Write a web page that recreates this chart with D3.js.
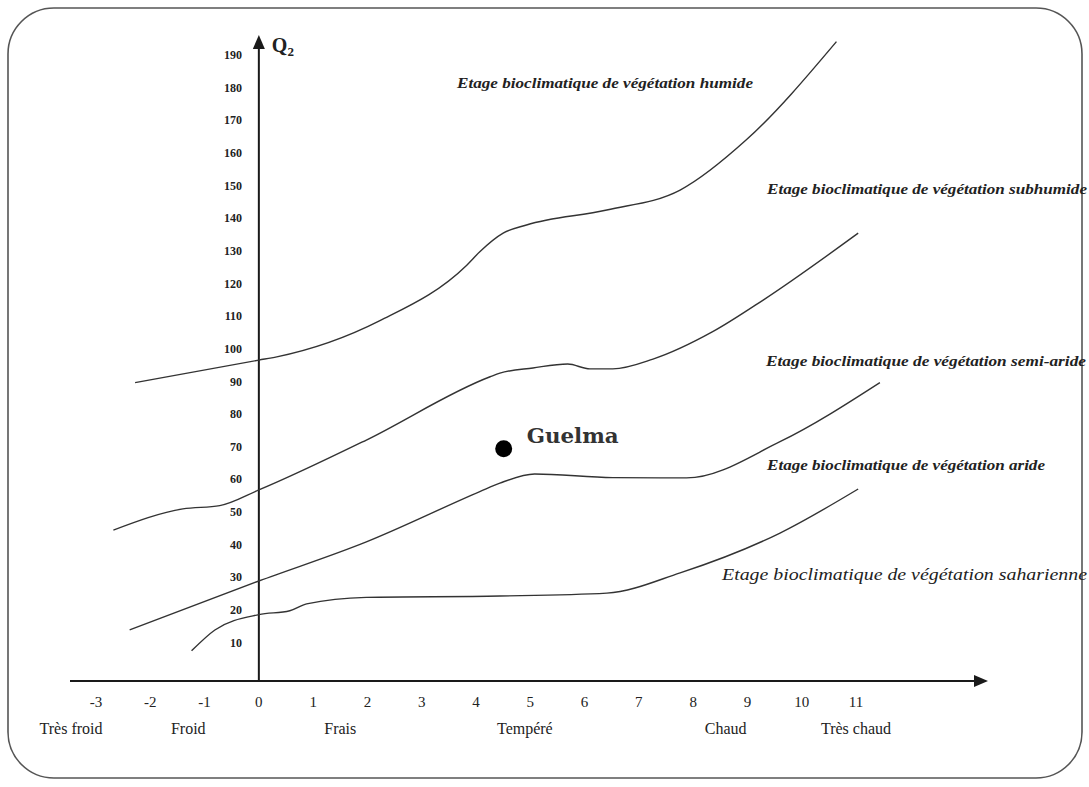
<!DOCTYPE html>
<html>
<head>
<meta charset="utf-8">
<script src="https://cdn.jsdelivr.net/npm/d3@7"></script>
<style>
  body { margin: 0; background: #fff; }
  svg { display: block; }
</style>
</head>
<body>
<svg></svg>
<script>
///////////////////////////////////////////
// Data
var xTickValues = [-3, -2, -1, 0, 1, 2, 3, 4, 5, 6, 7, 8, 9, 10, 11];
var yTickValues = [10, 20, 30, 40, 50, 60, 70, 80, 90, 100, 110, 120, 130, 140, 150, 160, 170, 180, 190];

var zoneNames = ["Très froid", "Froid", "Frais", "Tempéré", "Chaud", "Très chaud"];
var zoneM     = [-3.46, -1.3, 1.5, 4.9, 8.6, 11.0];

// limit curves, [m, Q2]
var limitHumide = [[-2.28, 89.6], [0, 96.5], [0.33, 97.5], [2.23, 108.6], [3.83, 125.6], [4.07, 129.7],
                   [4.5, 135.4], [4.93, 137.9], [6.41, 142.5], [7.76, 148.6], [8.98, 164.0], [10.64, 194.1]];
var limitSubhumide = [[-2.68, 44.4], [-1.4, 50.9], [-0.72, 51.9], [0, 56.7], [1.98, 72.0], [4.26, 91.4],
                      [4.44, 92.5], [5.05, 94.1], [5.69, 95.3], [6.1, 93.8], [6.52, 93.8], [7.26, 96.8],
                      [8.36, 105.2], [9.29, 114.9], [11.04, 135.4]];
var limitSemiAride = [[-2.38, 13.8], [0, 28.8], [1.98, 40.8], [4.07, 56.2], [4.44, 58.8], [5.08, 61.6],
                      [6.52, 60.5], [7.88, 60.4], [9.6, 71.5], [11.44, 89.6]];
var limitAride = [[-1.24, 7.4], [-0.81, 13.8], [0, 18.5], [0.57, 19.7], [0.88, 21.8], [1.98, 23.8],
                  [4.44, 24.2], [6.41, 25.1], [7.76, 31.3], [9.6, 43.5], [11.04, 57.0]];

var stageNames = [
  "Etage bioclimatique de végétation humide",
  "Etage bioclimatique de végétation subhumide",
  "Etage bioclimatique de végétation semi-aride",
  "Etage bioclimatique de végétation aride",
  "Etage bioclimatique de végétation saharienne"
];

var stationName = "Guelma",
    stationM = 4.51,
    stationQ2 = 69.3;

///////////////////////////////////////////
// Layout
var svgWidth = 1089, svgHeight = 787;
var xAxisY = 681, xAxisLeft = 70, xAxisRight = 988, yAxisTop = 35;
// label boxes: [left, baseline, width]
var stageLabelPos = [[457, 88, 296], [767, 194, 320], [766, 366, 320], [767, 470, 278], [722, 580, 365]];

var svg = d3.select("svg").attr("width", svgWidth).attr("height", svgHeight);

var x = d3.scaleLinear().domain([-3, 11]).range([96, 856]);
var y = d3.scaleLinear().domain([0, 190]).range([675, 55]);

// rounded frame
svg.append("rect")
  .attr("x", 8).attr("y", 8)
  .attr("width", 1074).attr("height", 770)
  .attr("rx", 46).attr("ry", 46)
  .style("fill", "none").style("stroke", "#555").style("stroke-width", 1.6);

var g = svg.append("g");

///////////////////////////////////////////
// Axes
var axisColor = "#1a1a1a";
var x0 = x(0);

g.append("line")
  .attr("x1", xAxisLeft).attr("x2", xAxisRight - 10)
  .attr("y1", xAxisY).attr("y2", xAxisY)
  .style("stroke", axisColor).style("stroke-width", 2);
g.append("path")
  .attr("d", "M" + xAxisRight + "," + xAxisY + "L" + (xAxisRight - 14) + "," + (xAxisY - 6) +
             "L" + (xAxisRight - 14) + "," + (xAxisY + 6) + "Z")
  .style("fill", axisColor);

g.append("line")
  .attr("x1", x0).attr("x2", x0)
  .attr("y1", xAxisY).attr("y2", yAxisTop + 10)
  .style("stroke", axisColor).style("stroke-width", 2);
g.append("path")
  .attr("d", "M" + x0 + "," + yAxisTop + "L" + (x0 - 6) + "," + (yAxisTop + 14) +
             "L" + (x0 + 6) + "," + (yAxisTop + 14) + "Z")
  .style("fill", axisColor);

// axis title Q2
var qt = g.append("text")
  .attr("x", x0 + 13).attr("y", yAxisTop + 17)
  .style("font-family", "'Liberation Serif', serif")
  .style("font-weight", "bold").style("font-size", "20px")
  .style("fill", "#222");
qt.append("tspan").text("Q");
qt.append("tspan").attr("dy", 4).style("font-size", "13px").text("2");

// y tick labels
g.selectAll(".ylab").data(yTickValues).enter().append("text")
  .attr("class", "ylab")
  .attr("x", 242).attr("y", function(d){ return y(d); })
  .attr("dy", "0.35em")
  .attr("text-anchor", "end")
  .style("font-family", "'Liberation Serif', serif")
  .style("font-weight", "bold").style("font-size", "12px")
  .style("fill", "#222")
  .text(function(d){ return d; });

// x tick labels
g.selectAll(".xlab").data(xTickValues).enter().append("text")
  .attr("class", "xlab")
  .attr("x", function(d){ return x(d); }).attr("y", 707)
  .attr("text-anchor", "middle")
  .style("font-family", "'Liberation Serif', serif")
  .style("font-size", "15px")
  .style("fill", "#222")
  .text(function(d){ return d; });

// thermal zones
g.selectAll(".zone").data(zoneNames).enter().append("text")
  .attr("class", "zone")
  .attr("x", function(d, i){ return x(zoneM[i]); }).attr("y", 734)
  .attr("text-anchor", "middle")
  .style("font-family", "'Liberation Serif', serif")
  .style("font-size", "16px")
  .style("fill", "#222")
  .text(function(d){ return d; });

///////////////////////////////////////////
// Limit curves
var line = d3.line()
  .x(function(d){ return x(d[0]); })
  .y(function(d){ return y(d[1]); })
  .curve(d3.curveMonotoneX);

[limitHumide, limitSubhumide, limitSemiAride, limitAride].forEach(function(c){
  g.append("path")
    .attr("d", line(c))
    .style("fill", "none").style("stroke", "#333").style("stroke-width", 1.4);
});

// stage labels
g.selectAll(".stage").data(stageNames).enter().append("text")
  .attr("class", "stage")
  .attr("x", function(d, i){ return stageLabelPos[i][0]; })
  .attr("y", function(d, i){ return stageLabelPos[i][1]; })
  .attr("textLength", function(d, i){ return stageLabelPos[i][2]; })
  .attr("lengthAdjust", "spacingAndGlyphs")
  .style("font-family", "'Liberation Serif', serif")
  .style("font-style", "italic")
  .style("font-weight", function(d, i){ return i < 4 ? "bold" : "normal"; })
  .style("font-size", function(d, i){ return i < 4 ? "14px" : "16px"; })
  .style("fill", "#222")
  .text(function(d){ return d; });

///////////////////////////////////////////
// Station
g.append("circle")
  .attr("cx", x(stationM)).attr("cy", y(stationQ2)).attr("r", 8.5)
  .style("fill", "#000");
g.append("text")
  .attr("x", x(stationM) + 23).attr("y", y(stationQ2) - 6)
  .attr("textLength", 92).attr("lengthAdjust", "spacingAndGlyphs")
  .style("font-family", "'DejaVu Serif', serif")
  .style("font-weight", "bold").style("font-size", "21px")
  .style("fill", "#333")
  .text(stationName);
</script>
</body>
</html>
